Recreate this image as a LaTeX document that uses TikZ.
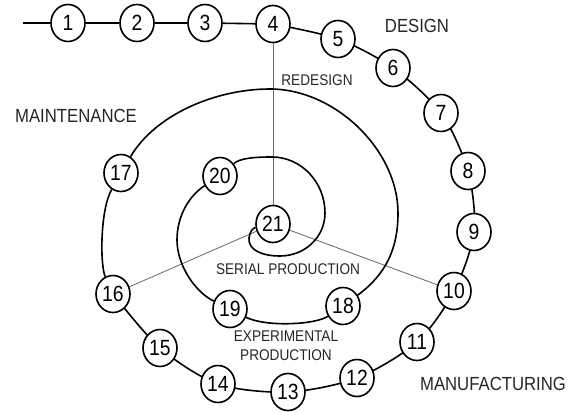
\documentclass[tikz,border=0pt]{standalone}
\usepackage{fontspec}
\newfontfamily\spiralfont{Liberation Sans}[FakeStretch=0.88]
\usetikzlibrary{shapes.geometric,backgrounds}
\tikzset{
    stage/.style={ellipse, draw=black, fill=white, line width=1.6pt, minimum width=34pt, minimum height=37pt, inner sep=0pt, font=\spiralfont\fontsize{22}{22}\selectfont},
    phase/.style={text=black!85, font=\spiralfont\fontsize{19}{19}\selectfont},
    subphase/.style={text=black!85, align=center, font=\spiralfont\fontsize{15.5}{19}\selectfont}
}

\begin{document}
\begin{tikzpicture}[
        x=1pt, y=-1pt,
        % --- STYLE DUONG ---
        spiral/.style={
            draw=black,
            line width=1.6pt
        },
        % Style tia (xam, mong)
        spoke/.style={
            draw=black!60,
            line width=0.8pt
        }
    ]
        \useasboundingbox (0,0) rectangle (576,412);

        % --- CAC NUT ---
        \foreach \n/\x/\y in {1/68/23, 2/137/23, 3/205/23, 4/273/24, 5/338/39, 6/393/68, 7/441/113,
                              8/468/171, 9/474/232, 10/454/291, 11/417/342, 12/357/378, 13/288/392,
                              14/218/384, 15/160/348, 16/113/294, 17/121/173, 18/343/306, 19/230/309,
                              20/220/176, 21/273/224} {
            \node[stage] (n\n) at (\x,\y) {\n};
        }
        \coordinate (start) at (23,23);

        % --- NHAN ---
        \node[phase] (design) at (417,26) {DESIGN};
        \node[subphase] (redesign) at (317,80) {REDESIGN};
        \node[phase] (maint) at (76,116) {MAINTENANCE};
        \node[subphase] (serial) at (288,269) {SERIAL PRODUCTION};
        \node[subphase] (exper) at (286,346) {EXPERIMENTAL\\PRODUCTION};
        \node[phase] (manuf) at (493,384) {MANUFACTURING};

        % --- XOAN OC ---
        \begin{scope}[on background layer]
            \draw[spoke] (n4) -- (n21);
            \draw[spoke] (n21) -- (n16);
            \draw[spoke] (n21) -- (n10);

            \draw[spiral] (start) -- (n1) -- (n2) -- (n3) -- (n4);
            % vong ngoai: 4 -> 16
            \draw[spiral] plot[smooth, tension=0.5] coordinates {
                (n4) (n5) (n6) (n7) (n8) (n9) (n10) (n11) (n12) (n13) (n14) (n15) (n16)};
            \draw[spiral] (n16) .. controls (100,265) and (100,210) .. (n17);
            % vong giua: 17 -> 18 -> 19
            \draw[spiral] (n17) .. controls (155,115) and (215,89) .. (270,89)
                .. controls (335,89) and (398,150) .. (398,213)
                .. controls (398,250) and (385,275) .. (n18);
            \draw[spiral] (n18) .. controls (315,325) and (265,327) .. (n19);
            % vong trong: 19 -> 20 -> 21
            \draw[spiral] (n19) .. controls (195,292) and (177,265) .. (177,240)
                .. controls (177,215) and (190,195) .. (n20);
            \draw[spiral] (n20) .. controls (240,158) and (255,157) .. (272,157)
                .. controls (301,157) and (325,182) .. (325,213)
                .. controls (325,237) and (305,256) .. (280,256)
                .. controls (262,256) and (248,250) .. (249,238)
                .. controls (250,231) and (253,228) .. (n21);
        \end{scope}

    \end{tikzpicture}
\end{document}
